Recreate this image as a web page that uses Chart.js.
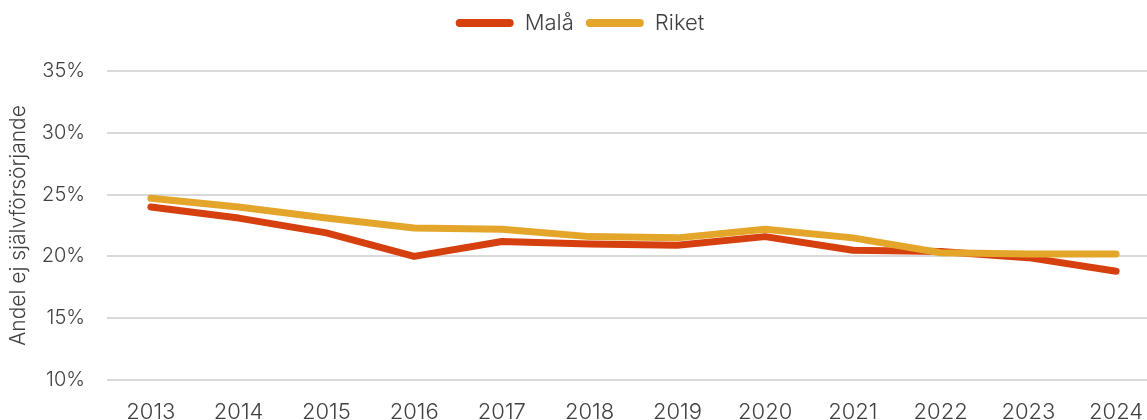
<!DOCTYPE html>
<html>
<head>
<meta charset="utf-8">
<script src="https://cdn.jsdelivr.net/npm/chart.js@4"></script>
<style>
  html, body { margin: 0; padding: 0; background: #fff; overflow: hidden; }
  #wrap { width: 1160px; height: 420px; }
</style>
</head>
<body>
<div id="wrap"><canvas id="c"></canvas></div>
<script>
// Andel ej självförsörjande, Malå kommun jämfört med riket
const years = ['2013','2014','2015','2016','2017','2018','2019','2020','2021','2022','2023','2024'];
const mala  = [24.0, 23.1, 21.9, 20.0, 21.2, 21.0, 20.9, 21.6, 20.5, 20.4, 19.9, 18.8];
const riket = [24.7, 24.0, 23.1, 22.3, 22.2, 21.6, 21.5, 22.2, 21.5, 20.3, 20.2, 20.2];

const FONT = 'Inter, Lato, sans-serif';
const TXT = '#404040';

const series = [
  { label: 'Malå',  data: mala,  color: '#D5400E', order: 1 },
  { label: 'Riket', data: riket, color: '#E4A62A', order: 0 }
];

// Extra space below the legend before the plot area
const legendGap = {
  id: 'legendGap',
  beforeInit(chart) {
    const fit = chart.legend.fit;
    chart.legend.fit = function () {
      fit.call(this);
      this.height += 27;
    };
  }
};

new Chart(document.getElementById('c'), {
  type: 'line',
  data: {
    labels: years,
    datasets: series.map(s => ({
      label: s.label,
      data: s.data,
      borderColor: s.color,
      backgroundColor: s.color,
      borderWidth: 7,
      borderCapStyle: 'round',
      borderJoinStyle: 'round',
      pointRadius: 0,
      tension: 0,
      order: s.order
    }))
  },
  plugins: [legendGap],
  options: {
    responsive: true,
    maintainAspectRatio: false,
    animation: false,
    layout: { padding: 0 },
    plugins: {
      tooltip: { enabled: false },
      legend: {
        position: 'top',
        labels: {
          color: TXT,
          font: { family: FONT, size: 22, weight: 300 },
          boxWidth: 58,
          boxHeight: 8,
          useBorderRadius: true,
          borderRadius: 4,
          padding: 12,
          generateLabels(chart) {
            return chart.data.datasets.map((d, i) => ({
              text: d.label,
              fillStyle: d.borderColor,
              strokeStyle: d.borderColor,
              lineWidth: 0,
              fontColor: TXT,
              hidden: false,
              datasetIndex: i,
              borderRadius: 4
            }));
          }
        }
      }
    },
    scales: {
      x: {
        offset: true,
        grid: { display: false },
        border: { display: false },
        ticks: { color: TXT, font: { family: FONT, size: 22, weight: 300 }, padding: 11, maxRotation: 0 },
        afterFit(scale) { scale.height = 40; }
      },
      y: {
        min: 10,
        max: 35,
        ticks: {
          stepSize: 5,
          color: TXT,
          font: { family: FONT, size: 20, weight: 300 },
          padding: 22,
          callback: v => v + '%'
        },
        grid: { color: '#D9D9D9', lineWidth: 2, drawTicks: false },
        border: { display: false },
        title: {
          display: true,
          text: 'Andel ej självförsörjande',
          color: TXT,
          font: { family: FONT, size: 21, weight: 300 },
          padding: { top: 6, bottom: 0 }
        },
        afterFit(scale) { scale.width = 107; }
      }
    }
  }
});
</script>
</body>
</html>
